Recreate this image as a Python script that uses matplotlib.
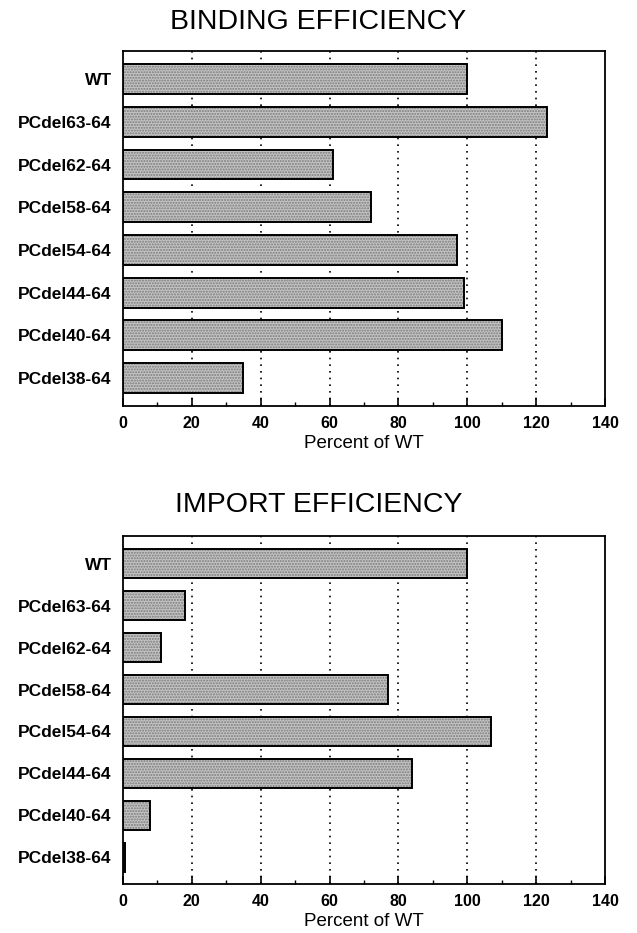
import numpy as np
import matplotlib.pyplot as plt
from matplotlib.ticker import MultipleLocator

labels = ["WT", "PCdel63-64", "PCdel62-64", "PCdel58-64",
          "PCdel54-64", "PCdel44-64", "PCdel40-64", "PCdel38-64"]
binding = [100, 123, 61, 72, 97, 99, 110, 35]
importe = [100, 18, 11, 77, 107, 84, 8, 0.5]

plt.rcParams['font.family'] = ['Liberation Sans', 'DejaVu Sans']

fig = plt.figure(figsize=(6.37, 9.33), dpi=100)
ax1 = fig.add_axes([0.193, 0.565, 0.757, 0.380])
ax2 = fig.add_axes([0.193, 0.052, 0.757, 0.373])


def panel(ax, vals):
    y = np.arange(len(labels))
    # dotted texture, then a black outline on top
    ax.barh(y, vals, height=0.7, color='#c4c4c4', edgecolor='#7a7a7a',
            linewidth=0, hatch='......', zorder=3)
    ax.barh(y, vals, height=0.7, fill=False, edgecolor='black',
            linewidth=1.4, zorder=4)
    ax.set_xlim(0, 140)
    ax.set_ylim(7.65, -0.65)
    ax.set_yticks(y)
    ax.set_yticklabels(labels, fontsize=12.5, fontweight='bold')
    ax.tick_params(axis='y', length=0, pad=8)
    ax.xaxis.set_major_locator(MultipleLocator(20))
    ax.xaxis.set_minor_locator(MultipleLocator(10))
    ax.tick_params(axis='x', which='major', direction='in', length=6,
                   width=1.2, labelsize=11.5, pad=7)
    ax.tick_params(axis='x', which='minor', direction='in', length=3,
                   width=1.0)
    for lab in ax.get_xticklabels():
        lab.set_fontweight('bold')
    for x in range(20, 140, 20):
        ax.axvline(x, color='black', linestyle=(0, (1, 3)), linewidth=1.2,
                   zorder=1)
    for s in ax.spines.values():
        s.set_linewidth(1.3)
    ax.set_xlabel("Percent of WT", fontsize=13.5, labelpad=3)


panel(ax1, binding)
panel(ax2, importe)

fig.text(0.5, 0.976, "BINDING EFFICIENCY", fontsize=20.5, ha='center', va='center')
fig.text(0.5, 0.459, "IMPORT EFFICIENCY", fontsize=20.5, ha='center', va='center')

fig.savefig("out.png", dpi=100)
